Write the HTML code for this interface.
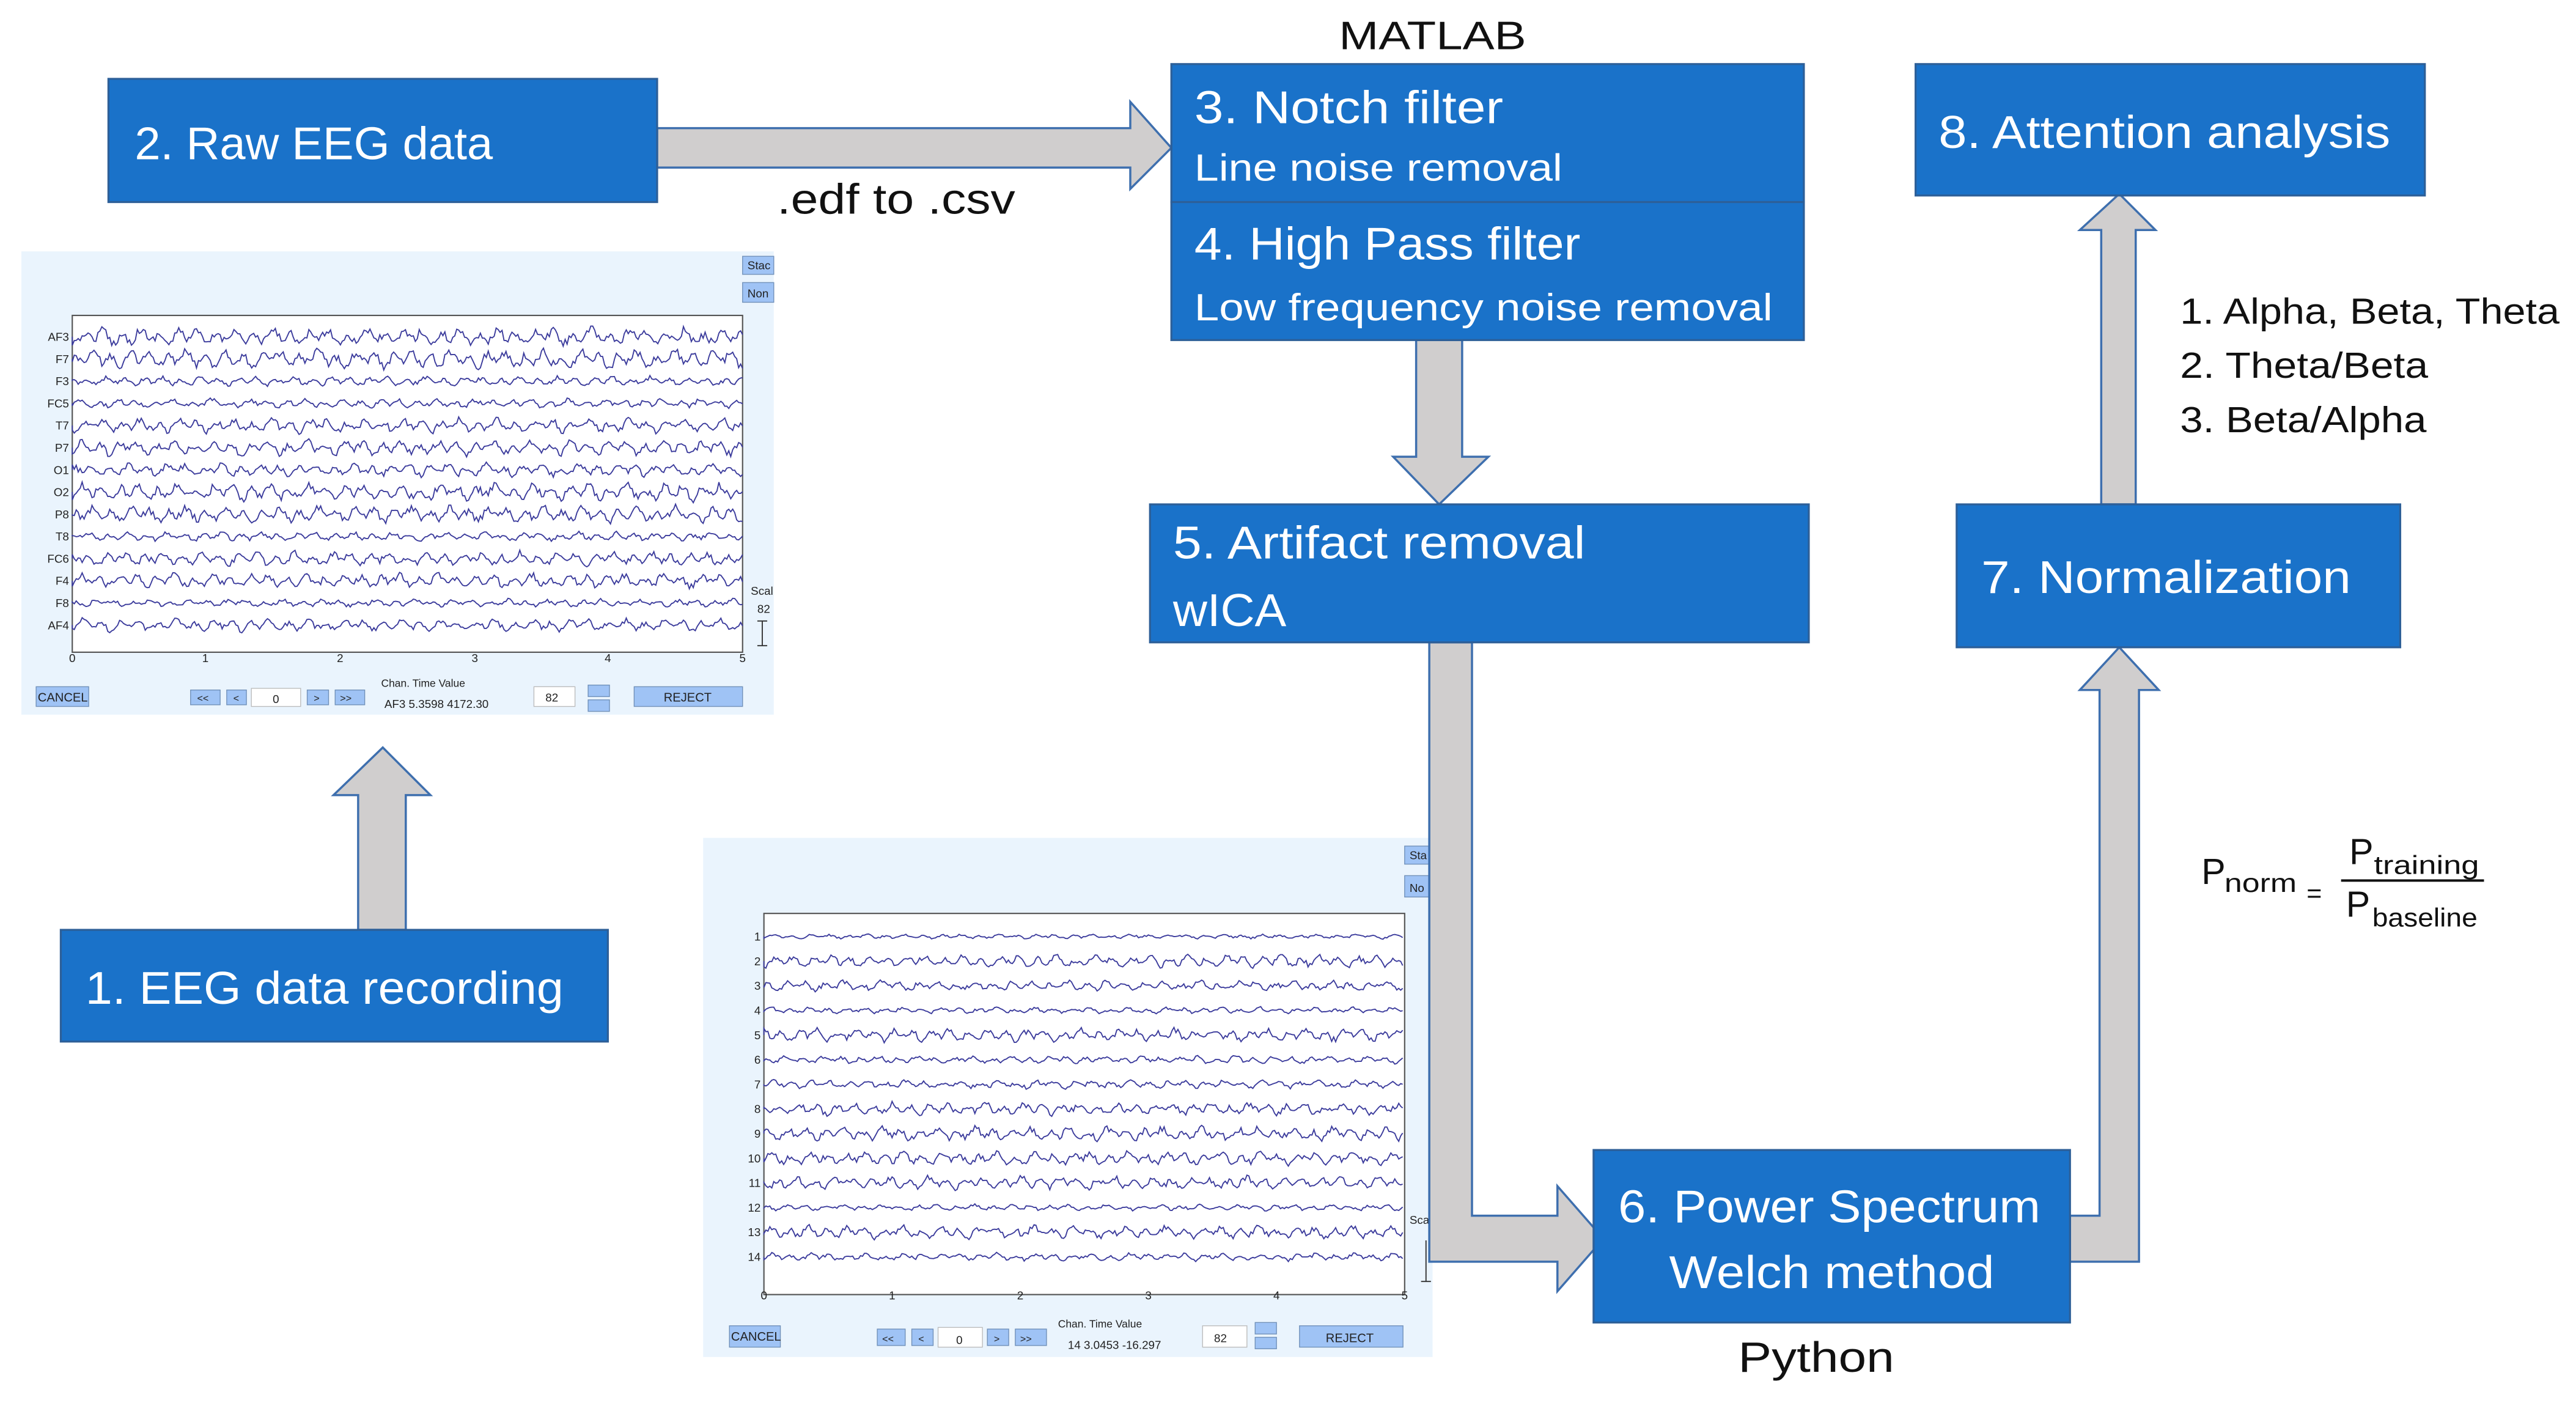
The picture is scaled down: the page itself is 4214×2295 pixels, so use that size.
<!DOCTYPE html>
<html><head><meta charset="utf-8"><style>
html,body{margin:0;padding:0;background:#fff;width:4214px;height:2295px;overflow:hidden}
svg{display:block}
.bx{fill:#1a72c9;stroke:#2d5f98;stroke-width:1.2}
.ar{fill:#d0cece;stroke:#3e6fae;stroke-width:1.3;stroke-linejoin:miter}
.wt{fill:#fff;font-family:"Liberation Sans",sans-serif}
.bk{fill:#111;font-family:"Liberation Sans",sans-serif}
.sm{font-family:"Liberation Sans",sans-serif;fill:#222}
.btn{fill:#9fc3f5;stroke:#6f8fb8;stroke-width:0.5}
</style></head><body>
<svg id="s" width="4214" height="2295" viewBox="0 0 1568 854" preserveAspectRatio="none" xmlns="http://www.w3.org/2000/svg">
<!-- Screenshot 1 -->
<rect x="13" y="153" width="458" height="282" fill="#eaf4fd"/>
<rect x="44" y="192" width="408" height="205" fill="#fff" stroke="#555" stroke-width="0.8"/>
<rect x="452" y="156" width="19" height="11" class="btn"/><text x="455" y="164" font-size="7" class="sm">Stac</text>
<rect x="452" y="172" width="19" height="12" class="btn"/><text x="455" y="181" font-size="7" class="sm">Non</text>
<text x="457" y="362" font-size="7" class="sm">Scal</text><text x="461" y="373" font-size="7" class="sm">82</text>
<path d="M464 378V393M461 378H467M461 393H467" stroke="#333" stroke-width="0.7" fill="none"/>
<g id="lab1" font-size="7" class="sm" text-anchor="end"></g>
<g id="tr1"></g>
<g font-size="7" class="sm" text-anchor="middle">
<text x="44" y="403">0</text><text x="125" y="403">1</text><text x="207" y="403">2</text><text x="289" y="403">3</text><text x="370" y="403">4</text><text x="452" y="403">5</text></g>
<rect x="22" y="418" width="32" height="12" class="btn"/><text x="23" y="427" font-size="7.5" class="sm">CANCEL</text>
<rect x="116" y="420" width="18" height="9" class="btn"/><text x="120" y="427" font-size="6" class="sm">&lt;&lt;</text>
<rect x="138" y="420" width="12" height="9" class="btn"/><text x="142" y="427" font-size="6" class="sm">&lt;</text>
<rect x="153" y="419" width="30" height="11" fill="#fff" stroke="#bbb" stroke-width="0.5"/><text x="166" y="428" font-size="7" class="sm">0</text>
<rect x="187" y="420" width="13" height="9" class="btn"/><text x="191" y="427" font-size="6" class="sm">&gt;</text>
<rect x="204" y="420" width="18" height="9" class="btn"/><text x="207" y="427" font-size="6" class="sm">&gt;&gt;</text>
<text x="232" y="418" font-size="6.5" class="sm">Chan.   Time     Value</text>
<text x="234" y="431" font-size="7" class="sm">AF3  5.3598  4172.30</text>
<rect x="325" y="418" width="25" height="12" fill="#fff" stroke="#bbb" stroke-width="0.5"/><text x="332" y="427" font-size="7" class="sm">82</text>
<rect x="358" y="417" width="13" height="7" class="btn"/><rect x="358" y="426" width="13" height="7" class="btn"/>
<rect x="386" y="418" width="66" height="12" class="btn"/><text x="404" y="427" font-size="7.5" class="sm">REJECT</text>

<!-- Screenshot 2 -->
<rect x="428" y="510" width="444" height="316" fill="#eaf4fd"/>
<rect x="465" y="556" width="390" height="232" fill="#fff" stroke="#555" stroke-width="0.8"/>
<rect x="855" y="515" width="17" height="11" class="btn"/><text x="858" y="523" font-size="7" class="sm">Sta</text>
<rect x="855" y="533" width="17" height="13" class="btn"/><text x="858" y="543" font-size="7" class="sm">No</text>
<text x="858" y="745" font-size="7" class="sm">Sca</text>
<path d="M868 755V780M865 780H871" stroke="#333" stroke-width="0.7" fill="none"/>
<g id="lab2" font-size="7" class="sm" text-anchor="end"></g>
<g id="tr2"></g>
<g font-size="7" class="sm" text-anchor="middle">
<text x="465" y="791">0</text><text x="543" y="791">1</text><text x="621" y="791">2</text><text x="699" y="791">3</text><text x="777" y="791">4</text><text x="855" y="791">5</text></g>
<rect x="444" y="807" width="31" height="13" class="btn"/><text x="445" y="816" font-size="7.5" class="sm">CANCEL</text>
<rect x="534" y="809" width="17" height="10" class="btn"/><text x="537" y="817" font-size="6" class="sm">&lt;&lt;</text>
<rect x="555" y="809" width="13" height="10" class="btn"/><text x="559" y="817" font-size="6" class="sm">&lt;</text>
<rect x="571" y="808" width="27" height="12" fill="#fff" stroke="#bbb" stroke-width="0.5"/><text x="582" y="818" font-size="7" class="sm">0</text>
<rect x="601" y="809" width="13" height="10" class="btn"/><text x="605" y="817" font-size="6" class="sm">&gt;</text>
<rect x="618" y="809" width="19" height="10" class="btn"/><text x="621" y="817" font-size="6" class="sm">&gt;&gt;</text>
<text x="644" y="808" font-size="6.5" class="sm">Chan.   Time     Value</text>
<text x="650" y="821" font-size="7" class="sm">14  3.0453  -16.297</text>
<rect x="732" y="807" width="27" height="13" fill="#fff" stroke="#bbb" stroke-width="0.5"/><text x="739" y="817" font-size="7" class="sm">82</text>
<rect x="764" y="805" width="13" height="7" class="btn"/><rect x="764" y="814" width="13" height="7" class="btn"/>
<rect x="791" y="807" width="63" height="13" class="btn"/><text x="807" y="817" font-size="7.5" class="sm">REJECT</text>

<!-- Arrows -->
<polygon class="ar" points="400,78 688,78 688,62 713,90 688,115 688,102 400,102"/>
<polygon class="ar" points="862,207 890,207 890,278 906,278 876,307 848,278 862,278"/>
<polygon class="ar" points="870,391 896,391 896,740 948,740 948,722 976,754 948,786 948,768 870,768"/>
<polygon class="ar" points="1260,740 1278,740 1278,420 1266,420 1290,394 1314,420 1302,420 1302,768 1260,768"/>
<polygon class="ar" points="1279,307 1279,140 1266,140 1290,118 1312,140 1300,140 1300,307"/>
<polygon class="ar" points="218,566 218,484 203,484 233,455 262,484 247,484 247,566"/>

<!-- Boxes -->
<rect class="bx" x="66" y="48" width="334" height="75"/>
<rect class="bx" x="713" y="39" width="385" height="84"/>
<rect class="bx" x="713" y="123" width="385" height="84"/>
<rect class="bx" x="1166" y="39" width="310" height="80"/>
<rect class="bx" x="700" y="307" width="401" height="84"/>
<rect class="bx" x="1191" y="307" width="270" height="87"/>
<rect class="bx" x="37" y="566" width="333" height="68"/>
<rect class="bx" x="970" y="700" width="290" height="105"/>

<text class="wt" x="82" y="97" font-size="28" textLength="218" lengthAdjust="spacingAndGlyphs">2. Raw EEG data</text>
<text class="wt" x="727" y="75" font-size="28" textLength="188" lengthAdjust="spacingAndGlyphs">3. Notch filter</text>
<text class="wt" x="727" y="110" font-size="23" textLength="224" lengthAdjust="spacingAndGlyphs">Line noise removal</text>
<text class="wt" x="727" y="158" font-size="28" textLength="235" lengthAdjust="spacingAndGlyphs">4. High Pass filter</text>
<text class="wt" x="727" y="195" font-size="23" textLength="352" lengthAdjust="spacingAndGlyphs">Low frequency noise removal</text>
<text class="wt" x="1180" y="90" font-size="28" textLength="275" lengthAdjust="spacingAndGlyphs">8. Attention analysis</text>
<text class="wt" x="714" y="340" font-size="28" textLength="251" lengthAdjust="spacingAndGlyphs">5. Artifact removal</text>
<text class="wt" x="714" y="381" font-size="28" textLength="69" lengthAdjust="spacingAndGlyphs">wICA</text>
<text class="wt" x="1206" y="361" font-size="28" textLength="225" lengthAdjust="spacingAndGlyphs">7. Normalization</text>
<text class="wt" x="52" y="611" font-size="28" textLength="291" lengthAdjust="spacingAndGlyphs">1. EEG data recording</text>
<text class="wt" x="985" y="744" font-size="28" textLength="257" lengthAdjust="spacingAndGlyphs">6. Power Spectrum</text>
<text class="wt" x="1016" y="784" font-size="28" textLength="198" lengthAdjust="spacingAndGlyphs">Welch method</text>

<text class="bk" x="815" y="30" font-size="24" textLength="114" lengthAdjust="spacingAndGlyphs">MATLAB</text>
<text class="bk" x="473" y="130" font-size="26" textLength="145" lengthAdjust="spacingAndGlyphs">.edf to .csv</text>
<text class="bk" x="1058" y="835" font-size="26" textLength="95" lengthAdjust="spacingAndGlyphs">Python</text>
<text class="bk" x="1327" y="197" font-size="22" textLength="231" lengthAdjust="spacingAndGlyphs">1. Alpha, Beta, Theta</text>
<text class="bk" x="1327" y="230" font-size="22" textLength="151" lengthAdjust="spacingAndGlyphs">2. Theta/Beta</text>
<text class="bk" x="1327" y="263" font-size="22" textLength="150" lengthAdjust="spacingAndGlyphs">3. Beta/Alpha</text>

<text class="bk" x="1340" y="538" font-size="22">P</text>
<text class="bk" x="1354" y="543" font-size="16" textLength="44" lengthAdjust="spacingAndGlyphs">norm</text>
<text class="bk" x="1404" y="549" font-size="16">=</text>
<text class="bk" x="1430" y="526" font-size="22">P</text>
<text class="bk" x="1445" y="532" font-size="16" textLength="64" lengthAdjust="spacingAndGlyphs">training</text>
<line x1="1425" y1="536" x2="1512" y2="536" stroke="#111" stroke-width="1.5"/>
<text class="bk" x="1428" y="558" font-size="22">P</text>
<text class="bk" x="1444" y="564" font-size="16" textLength="64" lengthAdjust="spacingAndGlyphs">baseline</text>
</svg>
<script>
(function(){
var NS="http://www.w3.org/2000/svg";
var seed=12345;function r(){seed=(seed*16807)%2147483647;return seed/2147483647;}
function traces(gid,lid,labels,x0,x1,y0,dy,amp){
 var g=document.getElementById(gid),lg=document.getElementById(lid);
 for(var i=0;i<labels.length;i++){
  var y=y0+i*dy,d="M"+x0+" "+y,ph=r()*6,a=amp*(0.4+r()*0.9);
  for(var x=x0;x<=x1;x+=1.2){
   var t=(x-x0);
   var v=Math.sin(t*0.55+ph)*a*0.5+Math.sin(t*0.23+ph*2)*a*0.3+(r()-0.5)*a*0.8;
   d+="L"+x.toFixed(1)+" "+(y+v).toFixed(1);
  }
  var p=document.createElementNS(NS,"path");
  p.setAttribute("d",d);p.setAttribute("fill","none");p.setAttribute("stroke","#3b3b9c");p.setAttribute("stroke-width","0.7");
  g.appendChild(p);
  var tx=document.createElementNS(NS,"text");tx.setAttribute("x",x0-2);tx.setAttribute("y",y+2.5);tx.textContent=labels[i];lg.appendChild(tx);
 }
}
traces("tr1","lab1",["AF3","F7","F3","FC5","T7","P7","O1","O2","P8","T8","FC6","F4","F8","AF4"],44,452,205,13.5,5);
var l2=[];for(var i=1;i<=14;i++)l2.push(""+i);
traces("tr2","lab2",l2,465,855,570,15,3.5);
})();
</script>
</body></html>
